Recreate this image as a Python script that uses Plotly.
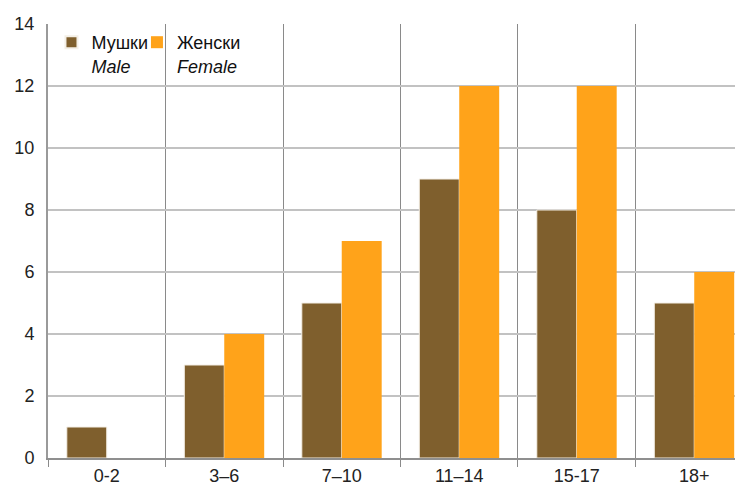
import plotly.graph_objects as go

categories = ["0-2", "3–6", "7–10", "11–14", "15-17", "18+"]
male = [1, 3, 5, 9, 8, 5]
female = [0, 4, 7, 12, 12, 6]
y_ticks = [0, 2, 4, 6, 8, 10, 12, 14]

male_name = "Мушки<br><i>Male</i>"
female_name = "Женски<br><i>Female</i>"

FONT = "Liberation Sans Narrow, Arial Narrow, Liberation Sans, Arial, sans-serif"

fig = go.Figure()
fig.add_trace(go.Bar(x=categories, y=male, name=male_name, legend="legend",
                     marker=dict(color="#7F5F2D", line=dict(width=1, color="#f4efe6"))))
fig.add_trace(go.Bar(x=categories, y=female, name=female_name, legend="legend2",
                     marker=dict(color="#FFA31A", line=dict(width=0))))

legend_common = dict(orientation="h", y=1.0, xanchor="left", yanchor="top",
                     valign="top", bgcolor="rgba(0,0,0,0)",
                     font=dict(family=FONT, size=18, color="#111"),
                     itemsizing="constant")

fig.update_layout(
    width=735, height=485,
    margin=dict(l=40, r=0, t=16, b=35),
    paper_bgcolor="white", plot_bgcolor="white",
    barmode="group", bargap=0.32, bargroupgap=0,
    font=dict(family=FONT, size=18, color="#222"),
    legend=dict(x=0.005, **legend_common),
    legend2=dict(x=0.128, **legend_common),
    showlegend=True,
)
fig.update_xaxes(
    type="category", range=[-0.5, 5.415],
    tickson="boundaries", showgrid=True, gridcolor="#8a8a8a", gridwidth=1,
    ticks="outside", ticklen=7, tickcolor="#8a8a8a",
    showline=True, linecolor="#8f8f8f", linewidth=2,
    tickfont=dict(family=FONT, size=18, color="#222"),
)
fig.update_yaxes(
    range=[0, 14], tickvals=y_ticks, showgrid=True, gridcolor="#c2c2c2", gridwidth=2,
    showline=True, linecolor="#9a9a9a", linewidth=2, ticks="", ticklabelstandoff=8,
    zeroline=False,
    tickfont=dict(family=FONT, size=18, color="#222"),
)

fig.write_html("out.html")
